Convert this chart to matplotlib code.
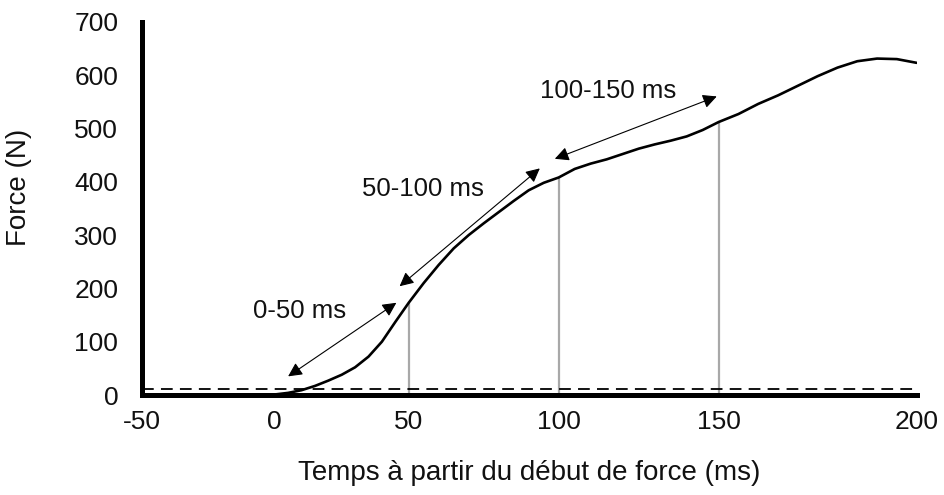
import numpy as np
import matplotlib
matplotlib.use("Agg")
import matplotlib.pyplot as plt

plt.rcParams['font.family'] = ['Liberation Sans', 'DejaVu Sans']

# force-time curve (ms, N)
time_ms = [0, 5, 10, 15, 20, 25, 30, 35, 40, 45, 50, 55, 60, 65, 70, 75, 80,
           85, 90, 95, 100, 105, 110, 115, 120, 125, 130, 135, 140, 145, 150,
           155, 160, 165, 170, 175, 180, 185, 190, 195, 200]
force_n = [1, 4, 9, 17, 27, 38, 52, 72, 100, 137, 173, 210, 244, 275, 300,
           322, 343, 364, 384, 398, 408, 424, 434, 442, 452, 462, 470, 477,
           485, 497, 512, 527, 546, 562, 580, 598, 614, 626, 631, 630, 623]

onset_threshold = 12
marker_times = [50, 100, 150]
marker_forces = [173, 408, 512]

# interval arrows: start/end points and their labels
interval_labels = ['0-50 ms', '50-100 ms', '100-150 ms']
arrow_start = [(5, 35), (46.6, 204), (98.7, 443)]
arrow_end = [(45.4, 173), (93.7, 425), (149.4, 560)]
label_pos = [(9.3, 158), (54.7, 386), (115.3, 571)]

xticks = [-50, 0, 50, 100, 150, 200]
# where each tick sits along the axis (fraction of width)
xtick_frac = [0.0, 0.1716, 0.3445, 0.5381, 0.7445, 1.0]
yticks = [0, 100, 200, 300, 400, 500, 600, 700]


def fwd(x):
    return np.interp(x, xticks, xtick_frac)


def inv(u):
    return np.interp(u, xtick_frac, xticks)


fig = plt.figure(figsize=(9.45, 4.95), dpi=100)
ax = fig.add_axes([0.150, 0.202, 0.820, 0.754])
ax.set_xscale('function', functions=(fwd, inv))
ax.set_xlim(-50, 200)
ax.set_ylim(0, 700)

for s in ['top', 'right']:
    ax.spines[s].set_visible(False)
for s in ['left', 'bottom']:
    ax.spines[s].set_linewidth(3.6)
    ax.spines[s].set_color('black')
    ax.spines[s].set_capstyle('projecting')

ax.set_xticks(xticks)
ax.set_xticklabels([str(v) for v in xticks])
ax.set_yticks(yticks)
ax.set_yticklabels([str(v) for v in yticks])
ax.xaxis.set_minor_locator(matplotlib.ticker.NullLocator())
ax.tick_params(axis='both', length=0, labelsize=19, colors='#111111')
ax.tick_params(axis='y', pad=17)
ax.tick_params(axis='x', pad=11)

# onset threshold
ax.plot([-50, 200], [onset_threshold, onset_threshold], color='black',
        lw=1.3, dashes=(6.5, 4), zorder=2)

# vertical markers at 50, 100, 150 ms
ax.vlines(marker_times, 0, marker_forces, colors='#a8a8a8', lw=1.6, zorder=1)

ax.plot(time_ms, force_n, color='black', lw=1.9, zorder=3,
        solid_capstyle='round', solid_joinstyle='round')

for lab, p0, p1, lp in zip(interval_labels, arrow_start, arrow_end, label_pos):
    ax.annotate('', xy=p1, xytext=p0,
                arrowprops=dict(arrowstyle='<|-|>', color='black', lw=0.8,
                                mutation_scale=21, shrinkA=0, shrinkB=0))
    ax.text(lp[0], lp[1], lab, fontsize=18.5, ha='center', va='center',
            color='#111111')

ax.set_xlabel('Temps à partir du début de force (ms)', fontsize=20,
              color='#111111')
ax.xaxis.set_label_coords(0.50, -0.175)
ax.set_ylabel('Force (N)', fontsize=20, color='#111111')
ax.yaxis.set_label_coords(-0.142, 0.555)

fig.savefig('out.png', dpi=100)
